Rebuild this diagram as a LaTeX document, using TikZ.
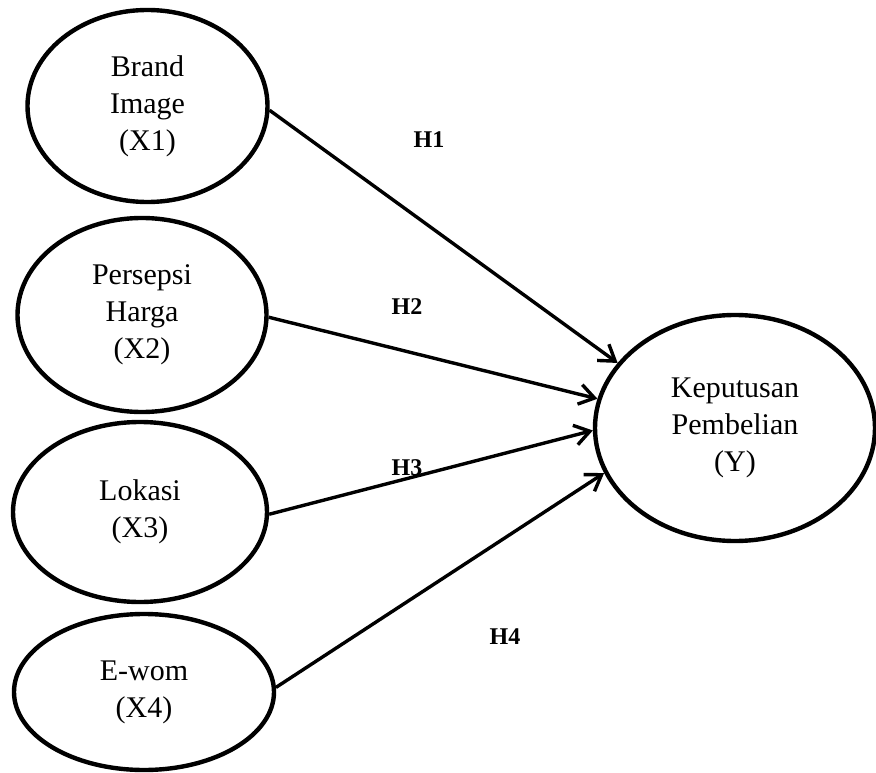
\documentclass[tikz,border=0pt]{standalone}
\usepackage{fontspec}
\setmainfont{Liberation Serif}
\usetikzlibrary{shapes.geometric,arrows.meta}
\begin{document}
\begin{tikzpicture}[x=1pt,y=-1pt,
  var/.style={draw=black, line width=4.4pt, ellipse, inner sep=0pt, align=center,
    font=\fontsize{30}{37}\selectfont},
  arrowpath/.style={draw=black, line width=3.4pt, -{Straight Barb[length=15pt,width=20pt,line width=3.4pt]}},
  hyp/.style={font=\bfseries\fontsize{24}{26}\selectfont}]
\useasboundingbox (0,0) rectangle (876,773);
\node[var, minimum width=240pt, minimum height=192pt] (x1) at (147.5,106) {Brand\\Image\\(X1)};
\node[var, minimum width=249pt, minimum height=194pt] (x2) at (142,315) {Persepsi\\Harga\\(X2)};
\node[var, minimum width=254pt, minimum height=180pt] (x3) at (140,512) {\raisebox{15pt}{\begin{tabular}{@{}c@{}}Lokasi\\(X3)\end{tabular}}};
\node[var, minimum width=260pt, minimum height=156pt] (x4) at (144,692) {E-wom\\(X4)};
\node[var, minimum width=280pt, minimum height=226pt] (y) at (735,428) {Keputusan\\Pembelian\\(Y)};
\draw[arrowpath] (x1.-2) -- (y.151);
\draw[arrowpath] (x2.-1.4) -- (y.168);
\draw[arrowpath] (x3.-1.8) -- (y.181);
\draw[arrowpath] (x4.2) -- (y.199);
\node[hyp] (h1) at (429,140) {H1};
\node[hyp] (h2) at (407,307) {H2};
\node[hyp] (h3) at (407,468) {H3};
\node[hyp] (h4) at (505,637) {H4};
\end{tikzpicture}
\end{document}
